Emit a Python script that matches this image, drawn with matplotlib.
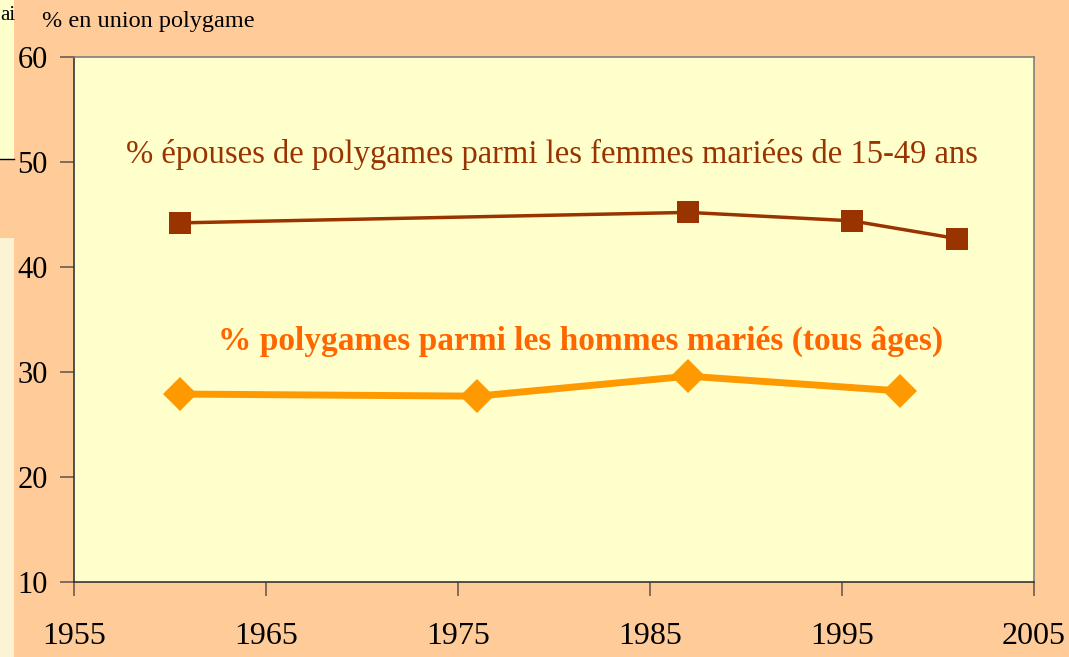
import matplotlib
matplotlib.use("Agg")
import matplotlib.pyplot as plt
from matplotlib.patches import Rectangle

plt.rcParams['font.family'] = ['Liberation Serif', 'DejaVu Serif']

# Data
years_wives = [1960.5, 1987.0, 1995.5, 2001.0]
wives_pct = [44.2, 45.2, 44.4, 42.7]
years_men = [1960.5, 1976.0, 1987.0, 1998.0]
men_pct = [27.9, 27.7, 29.6, 28.2]
x_ticks = [1955, 1965, 1975, 1985, 1995, 2005]
y_ticks = [10, 20, 30, 40, 50, 60]
label_wives = "% épouses de polygames parmi les femmes mariées de 15-49 ans"
label_men = "% polygames parmi les hommes mariés (tous âges)"
y_title = "% en union polygame"

W, H = 1069, 657
fig = plt.figure(figsize=(W / 100, H / 100), dpi=100)
fig.patch.set_facecolor('#FFCC99')

# left-edge artifacts
def px_rect(x0, y0, x1, y1, color):
    fig.patches.append(Rectangle((x0 / W, 1 - y1 / H), (x1 - x0) / W, (y1 - y0) / H,
                                 transform=fig.transFigure, facecolor=color,
                                 edgecolor='none', zorder=0))
px_rect(0, 0, 14, 159, '#FFFFCC')
px_rect(0, 238, 14, 657, '#FBF3D3')
fig.lines.append(plt.Line2D([0, 14 / W], [1 - 159 / H, 1 - 159 / H],
                            transform=fig.transFigure, color='black', lw=1))
fig.text(0, 1 - 16 / H, "ai", fontsize=15, ha='left', va='center', color='black')

ax = fig.add_axes([74 / W, (H - 582) / H, 960 / W, 525 / H])
ax.set_facecolor('#FFFFCC')
ax.set_xlim(1955, 2005)
ax.set_ylim(10, 60)
ax.set_xticks(x_ticks)
ax.set_yticks(y_ticks)
ax.tick_params(axis='both', direction='out', length=10, width=1.2, color='#6b5a50',
               labelcolor='black')
ax.tick_params(axis='x', pad=19, labelsize=23)
ax.tick_params(axis='y', pad=9, labelsize=22)
for s in ['left', 'bottom']:
    ax.spines[s].set_color('#333333')
    ax.spines[s].set_linewidth(1.2)
for s in ['top', 'right']:
    ax.spines[s].set_color('#808080')
    ax.spines[s].set_linewidth(1.2)

ax.plot(years_wives, wives_pct, color='#993300', lw=2.5, marker='s', markersize=16,
        markeredgewidth=0, clip_on=False, zorder=3)
ax.plot(years_men, men_pct, color='#FF9900', lw=5, marker='D', markersize=17,
        markeredgewidth=0, clip_on=False, zorder=3)

ax.text(1979.9, 50.7, label_wives, color='#993300', fontsize=23.5, ha='center', va='center')
ax.text(1981.4, 32.9, label_men, color='#FF6600', fontsize=24, fontweight='bold',
        ha='center', va='center')

fig.text(42 / W, 1 - 22 / H, y_title, fontsize=17.5, ha='left', va='center', color='black')

fig.savefig('out.png', dpi=100, facecolor=fig.get_facecolor())
